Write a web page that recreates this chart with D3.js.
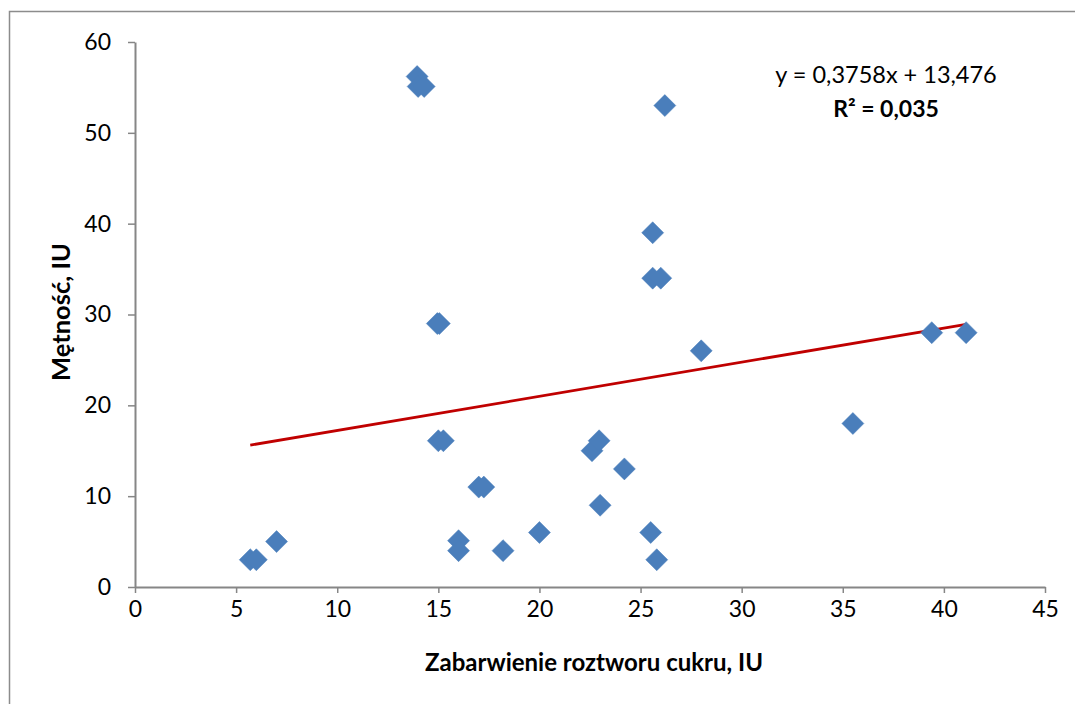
<!DOCTYPE html>
<html><head><meta charset="utf-8">
<script src="https://cdn.jsdelivr.net/npm/d3@7"></script>
<style>body{margin:0;background:#fff}svg{display:block}text{font-family:Lato,"Open Sans",sans-serif}</style>
</head><body><svg id="c" width="1075" height="704"></svg>
<script>
const xValues = [5.7, 6.0, 7.0, 13.95, 14.0, 14.3, 14.95, 15.05, 15.0, 15.25, 16.0, 16.0, 17.0, 17.25, 18.2, 20.0, 22.6, 22.95, 24.2, 23.0, 25.6, 25.6, 26.0, 26.2, 28.0, 25.5, 25.8, 35.5, 39.4, 41.1];
const yValues = [3, 3, 5, 56.2, 55.1, 55.1, 29, 29, 16.1, 16.1, 5.1, 4, 11, 11, 4, 6, 15, 16.1, 13, 9, 39, 34, 34, 53, 26, 6, 3, 18, 28, 28];
const xTicks = [0, 5, 10, 15, 20, 25, 30, 35, 40, 45];
const yTicks = [0, 10, 20, 30, 40, 50, 60];
const slope = 0.3758, intercept = 13.476;
const eqLabel = "y = 0,3758x + 13,476";
const r2Label = "R² = 0,035";
const xTitle = "Zabarwienie roztworu cukru, IU";
const yTitle = "Mętność, IU";

const svg = d3.select("#c");
const axisColor = "#868686";
svg.append("rect").attr("x", 9.5).attr("y", 11.5).attr("width", 1100).attr("height", 800)
  .attr("fill", "none").attr("stroke", "#8c8c8c").attr("stroke-width", 1.5);

const x = d3.scaleLinear().domain([0, 45]).range([135, 1045]);
const y = d3.scaleLinear().domain([0, 60]).range([587, 42]);

const gx = svg.append("g").attr("transform", "translate(0,587)")
  .call(d3.axisBottom(x).tickValues(xTicks).tickSizeInner(6).tickSizeOuter(0).tickPadding(8));
const gy = svg.append("g").attr("transform", "translate(135,0)")
  .call(d3.axisLeft(y).tickValues(yTicks).tickSizeInner(7).tickSizeOuter(0).tickPadding(17));
[gx, gy].forEach(g => {
  g.select(".domain").attr("stroke", axisColor).attr("stroke-width", 2);
  g.selectAll(".tick line").attr("stroke", axisColor).attr("stroke-width", 1.5);
  g.selectAll(".tick text").attr("fill", "#000").style("font-size", "23px").style("font-family", "Lato");
});

const xmin = d3.min(xValues), xmax = d3.max(xValues);
svg.append("line")
  .attr("x1", x(xmin)).attr("y1", y(slope * xmin + intercept))
  .attr("x2", x(xmax)).attr("y2", y(slope * xmax + intercept))
  .attr("stroke", "#c00000").attr("stroke-width", 2.75);

const pts = xValues.map((v, i) => [v, yValues[i]]);
const r = 11;
svg.append("g").selectAll("path").data(pts).join("path")
  .attr("d", d => `M${x(d[0])},${y(d[1]) - r}L${x(d[0]) + r},${y(d[1])}L${x(d[0])},${y(d[1]) + r}L${x(d[0]) - r},${y(d[1])}Z`)
  .attr("fill", "#4a7ebb").attr("stroke", "#4a7ebb").attr("stroke-width", 0.5);

svg.append("text").attr("x", 886).attr("y", 83).attr("text-anchor", "middle")
  .style("font-size", "23.5px").text(eqLabel);
svg.append("text").attr("x", 886).attr("y", 117).attr("text-anchor", "middle")
  .style("font-size", "23px").style("font-weight", "bold").text(r2Label);

svg.append("text").attr("x", 594).attr("y", 671).attr("text-anchor", "middle")
  .style("font-size", "24px").style("font-weight", "bold").text(xTitle);
svg.append("text").attr("transform", "translate(70,312) rotate(-90)").attr("text-anchor", "middle")
  .style("font-size", "25.5px").style("font-weight", "bold").text(yTitle);
</script></body></html>
